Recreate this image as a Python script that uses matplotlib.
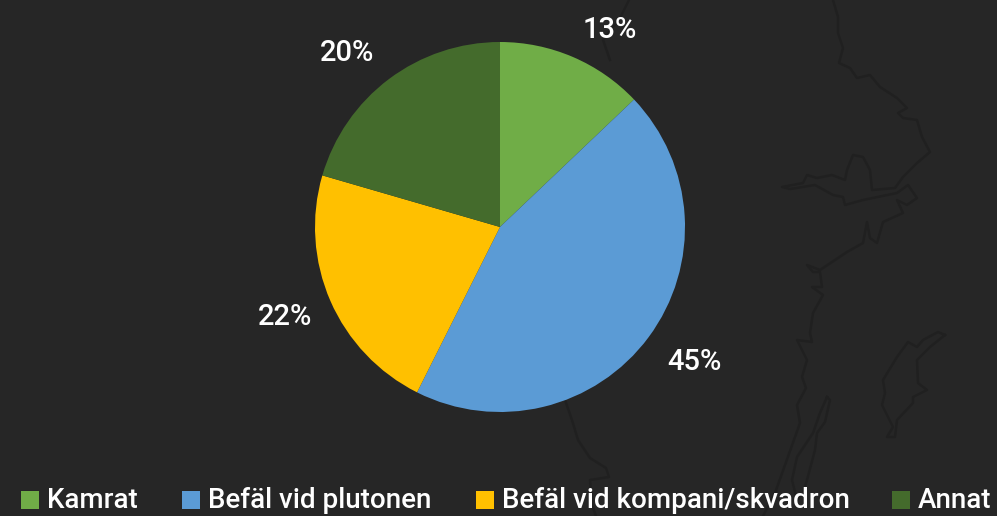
import matplotlib
matplotlib.use('Agg')
import matplotlib.pyplot as plt
from matplotlib.patches import Rectangle

W, H = 997, 516

categories = ['Kamrat', 'Befäl vid plutonen', 'Befäl vid kompani/skvadron', 'Annat']
values = [12.9, 44.5, 22.1, 20.5]
pct_labels = ['13%', '45%', '22%', '20%']
colors = ['#70AD47', '#5B9BD5', '#FFC000', '#446B2C']

# label centres and legend x positions, in picture pixels
label_pos = [(610, 30), (694, 362), (285, 317), (347, 53)]
legend_x = [21, 182, 476, 892]

# faint map outline in the background (picture pixels)
coast = [(833, 0), (838, 17), (838, 33), (843, 48), (839, 63), (850, 68), (857, 78), (870, 75),
         (880, 87), (897, 98), (907, 108), (898, 113), (903, 118), (917, 120), (922, 137),
         (930, 152), (917, 163), (903, 177), (895, 188), (872, 190), (870, 170), (863, 157),
         (853, 155), (847, 170), (845, 180), (832, 175), (817, 178), (807, 175), (803, 183),
         (782, 187), (790, 189), (815, 185), (833, 195), (843, 197), (845, 205), (863, 200),
         (897, 193), (908, 185), (917, 198), (907, 205), (897, 200), (903, 213), (883, 222),
         (877, 243), (870, 238), (867, 222), (863, 243), (847, 252), (820, 270), (807, 265),
         (813, 272), (820, 272), (822, 287), (812, 287), (823, 295), (813, 313), (810, 333),
         (812, 342), (797, 340), (807, 360), (802, 377), (806, 388), (797, 405), (800, 423),
         (775, 493), (763, 516)]
vattern = [(827, 397), (830, 400), (825, 422), (817, 433), (815, 450), (807, 480), (803, 493),
           (797, 500), (792, 480), (797, 457), (813, 433), (820, 413), (827, 397)]
gotland = [(945, 335), (938, 332), (923, 340), (917, 347), (908, 342), (897, 357), (883, 380),
           (885, 393), (882, 405), (893, 427), (887, 437), (895, 437), (897, 420), (913, 403),
           (913, 397), (927, 390), (918, 383), (917, 360), (930, 347), (945, 335)]
south = [(565, 400), (572, 420), (578, 440), (590, 458), (606, 468), (609, 477), (590, 480),
         (592, 505), (596, 516)]
north = [(629, 0), (620, 18), (603, 40), (610, 60)]

plt.rcParams['font.family'] = ['Roboto', 'DejaVu Sans']

fig = plt.figure(figsize=(W / 100, H / 100), dpi=100, facecolor='#262626')
ax = fig.add_axes([0, 0, 1, 1])


def flip(pts):
    return [p[0] for p in pts], [H - p[1] for p in pts]


for outline in [coast, vattern, gotland, south, north]:
    xs, ys = flip(outline)
    ax.plot(xs, ys, color='#202020', lw=1.8, solid_joinstyle='round', zorder=1)

ax.pie(values, colors=colors, startangle=90, counterclock=False,
       center=(500, H - 227), radius=185, frame=True,
       wedgeprops={'linewidth': 0, 'zorder': 2})
ax.set_xlim(0, W)
ax.set_ylim(0, H)
ax.axis('off')

for txt, (px, py) in zip(pct_labels, label_pos):
    ax.text(px, H - py, txt, color='white', fontsize=21, fontweight='medium',
            ha='center', va='center', zorder=3)

for name, col, px in zip(categories, colors, legend_x):
    ax.add_patch(Rectangle((px, H - 509), 18, 18, facecolor=col, edgecolor='none', zorder=3))
    ax.text(px + 26, H - 501, name, color='white', fontsize=20, fontweight='medium',
            ha='left', va='center', zorder=3)

fig.savefig('out.png', dpi=100, facecolor=fig.get_facecolor())
